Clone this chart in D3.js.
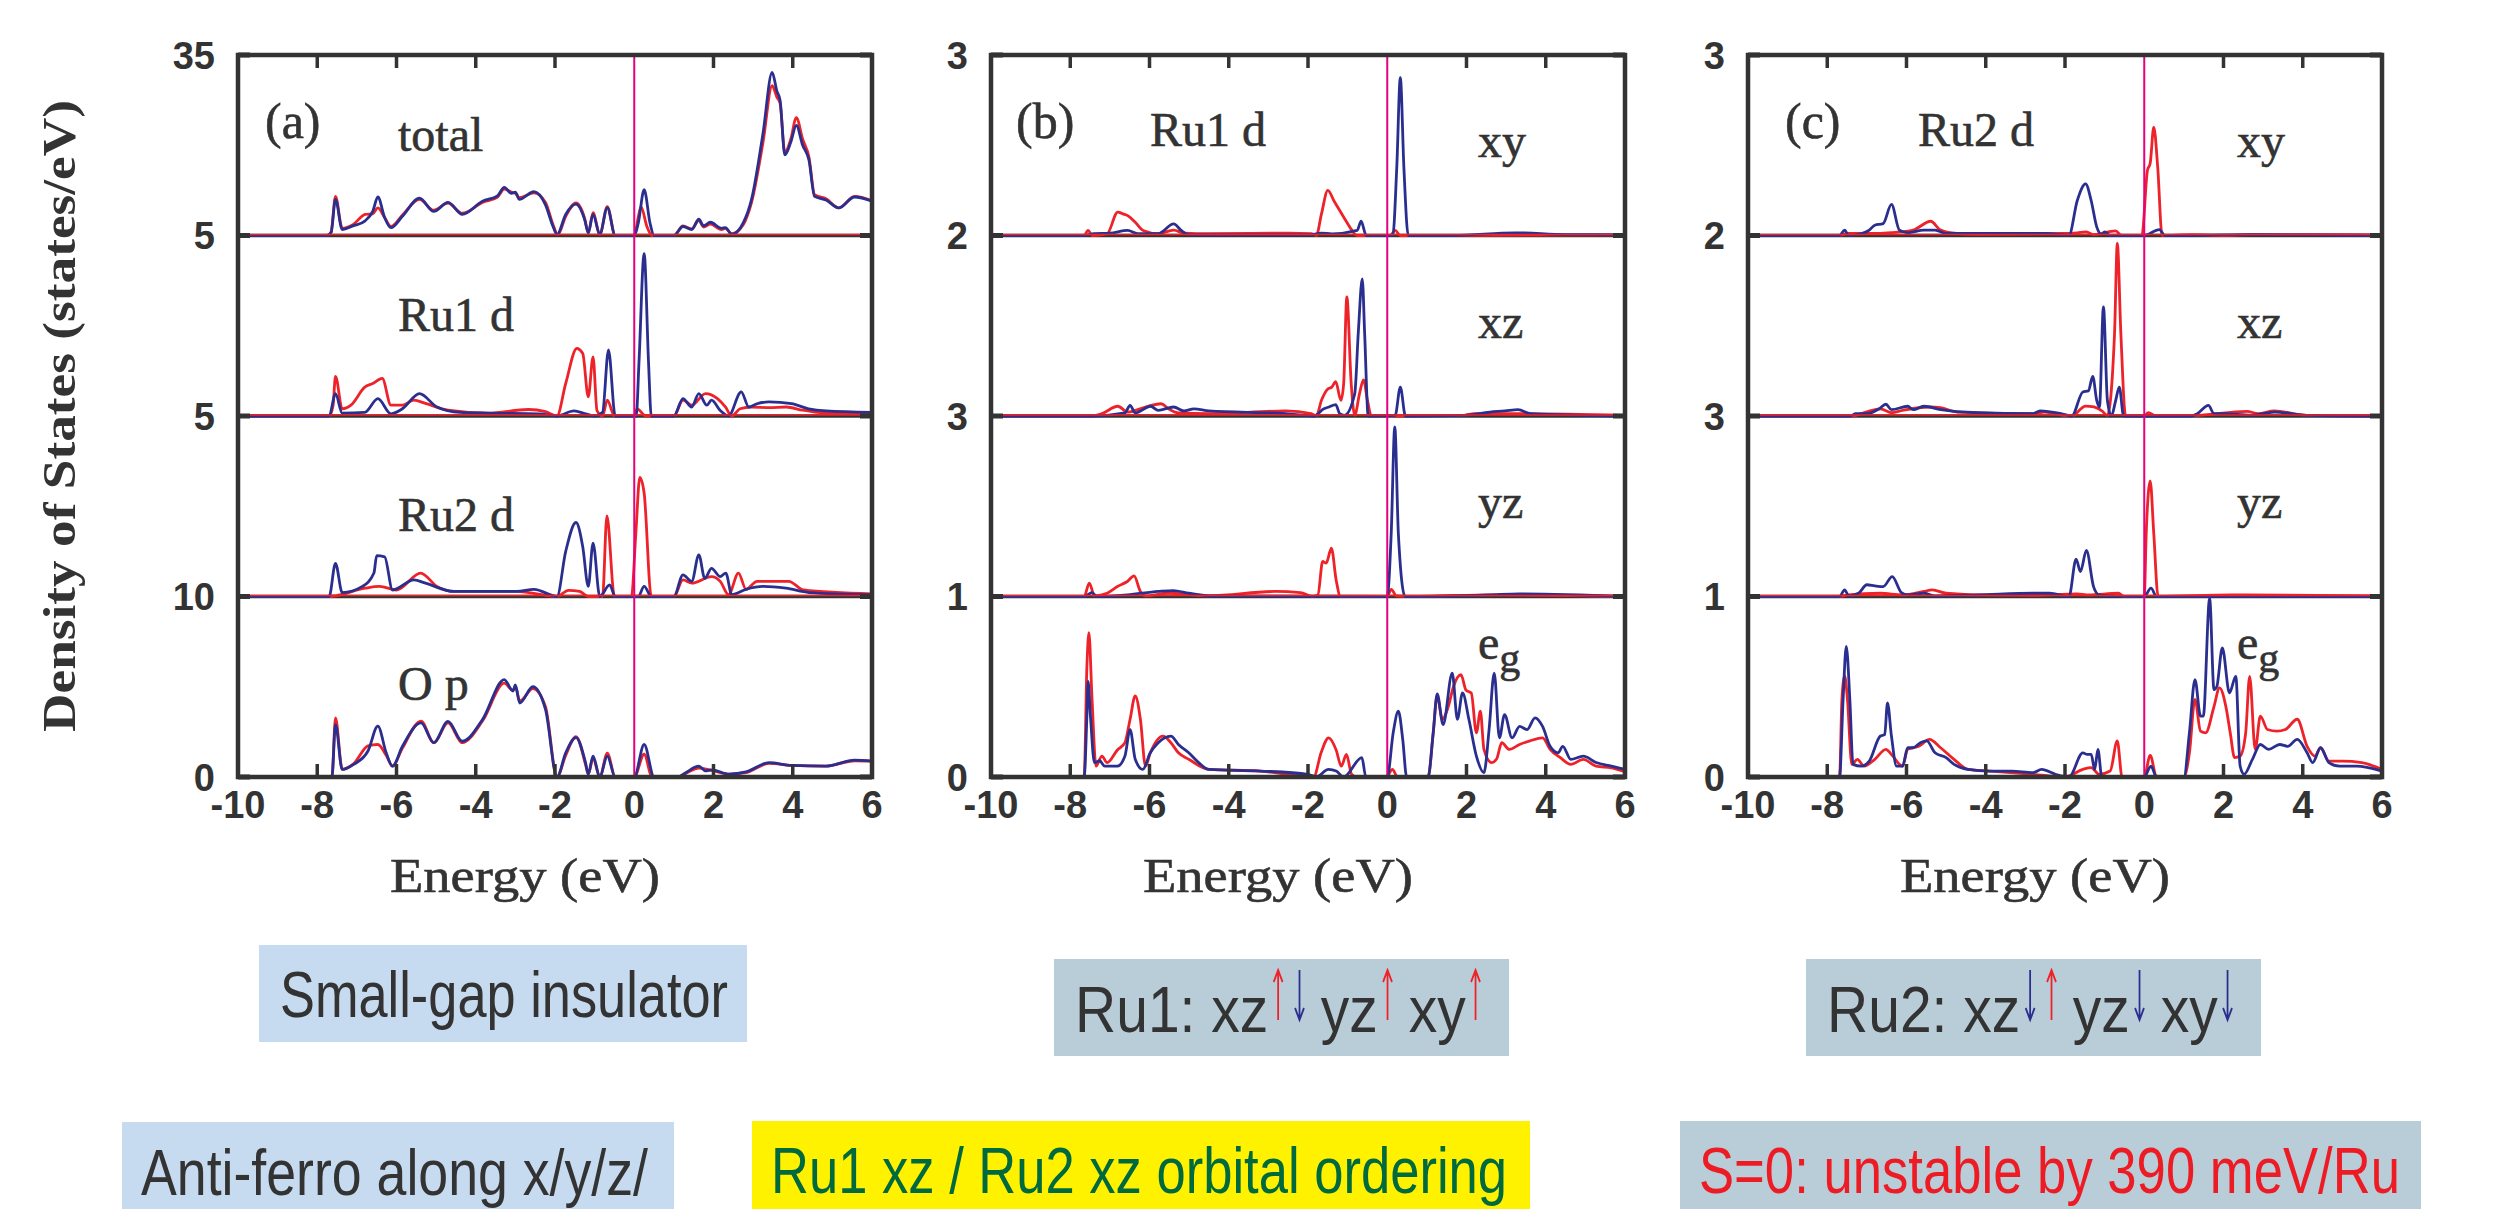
<!DOCTYPE html>
<html>
<head>
<meta charset="utf-8">
<script src="https://cdn.jsdelivr.net/npm/d3@7"></script>
<style>
  body { margin: 0; background: #fff; }
</style>
</head>
<body>
<div id="chart"></div>
<script>
// ---- data (energy in eV, DOS per sub-panel units) ----
var energyTicks = [-10, -8, -6, -4, -2, 0, 2, 4, 6];
var innerTicks = [-8, -6, -4, -2, 2, 4];

var aYLabels = ['35', '5', '5', '10', '0'];
var bYLabels = ['3', '2', '3', '1', '0'];
var cYLabels = ['3', '2', '3', '1', '0'];
var aNames = ['total', 'Ru1 d', 'Ru2 d', 'O p'];
var orbNames = ['xy', 'xz', 'yz', 'e'];
var aMax = [30, 5, 5, 5];
var orbMax = [1, 1, 1, 1];

// panel (a)
var totalBlue = [[-10,0],[-7.75,0],[-7.65,0.5],[-7.54,6.0],[-7.37,1.0],[-7.1,1.6],[-6.8,2.4],[-6.6,4.0],[-6.47,6.4],[-6.3,3.0],[-6.14,1.3],[-5.85,3.2],[-5.42,6.2],[-5.06,4.0],[-4.7,5.5],[-4.34,3.5],[-3.83,5.7],[-3.45,6.6],[-3.28,8.0],[-3.1,7.0],[-3.0,7.2],[-2.9,6.0],[-2.53,7.3],[-2.24,5.1],[-2.05,1.5],[-1.95,0.15],[-1.73,3.5],[-1.47,5.2],[-1.25,2.6],[-1.16,0.45],[-1.04,3.5],[-0.87,0.2],[-0.68,4.6],[-0.48,0],[0,0],[0.1,2.0],[0.25,7.6],[0.4,2.0],[0.5,0],[1.0,0],[1.23,1.5],[1.45,1.0],[1.63,2.7],[1.75,1.6],[1.92,2.2],[2.2,1.2],[2.3,1.3],[2.46,0.2],[2.75,2.1],[2.96,6.0],[3.25,17.0],[3.48,27.1],[3.6,24.0],[3.68,22.5],[3.8,13.4],[3.95,15.5],[4.09,18.3],[4.25,15.0],[4.41,12.5],[4.55,6.5],[4.84,5.9],[5.16,4.6],[5.56,6.4],[6,5.7]];
var totalRed = [[-10,0],[-7.75,0],[-7.65,0.6],[-7.54,6.5],[-7.37,1.2],[-7.1,1.8],[-6.79,3.5],[-6.6,3.6],[-6.47,4.6],[-6.3,3.0],[-6.14,1.5],[-5.85,3.4],[-5.42,6.0],[-5.06,4.2],[-4.7,5.4],[-4.34,3.7],[-3.83,5.5],[-3.45,6.4],[-3.28,7.7],[-3.1,7.2],[-3.0,7.0],[-2.9,6.3],[-2.53,7.1],[-2.24,5.5],[-2.05,1.8],[-1.93,0.1],[-1.73,3.2],[-1.47,5.4],[-1.25,2.8],[-1.16,0.4],[-1.04,3.8],[-0.87,0.2],[-0.68,4.8],[-0.48,0],[0,0],[0.1,3.0],[0.17,4.8],[0.32,1.5],[0.45,0],[1.0,0],[1.23,1.6],[1.45,1.1],[1.63,2.5],[1.75,1.4],[1.92,1.9],[2.2,1.0],[2.3,1.2],[2.46,0.3],[2.75,1.8],[2.96,5.5],[3.25,15.5],[3.48,24.9],[3.6,23.0],[3.68,22.0],[3.8,13.8],[3.95,16.0],[4.09,19.6],[4.25,16.0],[4.41,13.0],[4.55,6.8],[4.84,6.1],[5.16,4.6],[5.56,6.5],[6,5.8]];

var ru1Red = [[-10,0],[-7.7,0],[-7.6,0.3],[-7.54,1.1],[-7.37,0.2],[-7.15,0.3],[-6.8,0.8],[-6.6,0.9],[-6.36,1.04],[-6.14,0.3],[-5.85,0.3],[-5.56,0.44],[-5.27,0.35],[-4.7,0.16],[-3.7,0.08],[-2.67,0.18],[-2.24,0.12],[-1.95,0],[-1.73,0.9],[-1.45,1.87],[-1.3,1.73],[-1.16,0.53],[-1.04,1.64],[-0.94,0.15],[-0.8,0],[-0.68,0.44],[-0.5,0],[0,0],[0.07,0.2],[0.29,0],[1.0,0],[1.23,0.44],[1.45,0.3],[1.8,0.62],[2.1,0.48],[2.3,0.25],[2.46,0],[2.67,0.2],[2.96,0.25],[3.4,0.23],[3.83,0.25],[4.25,0.16],[4.55,0.11],[5.16,0.07],[6,0.07]];
var ru1Blue = [[-10,0],[-7.7,0],[-7.54,0.62],[-7.37,0.08],[-6.8,0.1],[-6.47,0.48],[-6.14,0.06],[-5.85,0.2],[-5.42,0.62],[-4.98,0.25],[-4.4,0.1],[-3.7,0.08],[-2.4,0.06],[-1.95,0],[-1.52,0.14],[-1.23,0.06],[-1.0,0],[-0.8,0.1],[-0.65,1.83],[-0.48,0],[0.05,0],[0.12,1.5],[0.25,4.5],[0.36,1.5],[0.43,0],[1.0,0],[1.23,0.48],[1.45,0.25],[1.63,0.62],[1.83,0.3],[1.95,0.44],[2.17,0.15],[2.38,0],[2.7,0.67],[2.89,0.25],[3.1,0.34],[3.4,0.39],[3.97,0.34],[4.4,0.2],[4.84,0.14],[6,0.1]];

var ru2Red = [[-10,0],[-7.7,0],[-7.54,0.02],[-6.79,0.23],[-6.43,0.28],[-6.0,0.18],[-5.39,0.65],[-4.98,0.28],[-4.55,0.14],[-2.96,0.14],[-1.95,0],[-1.66,0.17],[-1.38,0.14],[-1.16,0],[-0.8,0],[-0.69,2.23],[-0.5,0],[-0.07,0],[0.04,1.75],[0.14,3.3],[0.25,2.86],[0.43,0],[1.0,0],[1.23,0.46],[1.45,0.37],[1.95,0.55],[2.17,0.42],[2.38,0.05],[2.63,0.65],[2.82,0.2],[3.1,0.42],[3.9,0.42],[4.27,0.18],[6,0.07]];
var ru2Blue = [[-10,0],[-7.7,0],[-7.54,0.92],[-7.37,0.11],[-6.86,0.28],[-6.57,0.65],[-6.5,1.13],[-6.3,1.1],[-6.1,0.18],[-5.56,0.46],[-5.27,0.37],[-4.55,0.14],[-2.96,0.14],[-2.53,0.2],[-1.95,0],[-1.73,1.25],[-1.47,2.05],[-1.3,1.38],[-1.16,0.28],[-1.04,1.48],[-0.87,0],[-0.62,0.32],[-0.48,0],[0.1,0],[0.25,0.28],[0.43,0],[1.0,0],[1.23,0.6],[1.45,0.42],[1.63,1.15],[1.78,0.5],[1.95,0.78],[2.17,0.55],[2.31,0.65],[2.46,0.05],[2.82,0.2],[3.25,0.28],[3.83,0.23],[4.41,0.11],[6,0.05]];

var opBlue = [[-10,0],[-7.63,0],[-7.54,1.45],[-7.37,0.21],[-7.08,0.35],[-6.72,0.72],[-6.47,1.41],[-6.26,0.67],[-6.1,0.3],[-5.85,0.85],[-5.38,1.5],[-5.06,0.95],[-4.7,1.54],[-4.34,0.99],[-3.83,1.59],[-3.28,2.7],[-3.06,2.38],[-3.0,2.55],[-2.89,2.05],[-2.56,2.5],[-2.24,1.87],[-1.95,0],[-1.73,0.67],[-1.47,1.09],[-1.23,0.4],[-1.16,0.08],[-1.04,0.58],[-0.87,0],[-0.68,0.58],[-0.48,0],[0,0],[0.25,0.9],[0.5,0],[1.1,0],[1.3,0.12],[1.63,0.3],[1.8,0.17],[1.95,0.2],[2.4,0.08],[2.82,0.14],[3.4,0.4],[3.97,0.32],[4.84,0.3],[5.56,0.47],[6,0.44]];
var opRed = [[-10,0],[-7.63,0],[-7.54,1.64],[-7.37,0.21],[-7.08,0.37],[-6.72,0.86],[-6.47,0.9],[-6.26,0.6],[-6.1,0.3],[-5.85,0.8],[-5.38,1.55],[-5.06,0.95],[-4.7,1.5],[-4.34,0.95],[-3.83,1.55],[-3.28,2.6],[-3.06,2.4],[-3.0,2.5],[-2.89,2.1],[-2.56,2.45],[-2.24,1.95],[-1.95,0],[-1.73,0.6],[-1.47,1.12],[-1.23,0.35],[-1.16,0.08],[-1.04,0.52],[-0.87,0],[-0.68,0.66],[-0.48,0],[0,0],[0.25,0.63],[0.45,0],[1.1,0],[1.3,0.1],[1.63,0.25],[1.95,0.18],[2.4,0.08],[2.82,0.12],[3.4,0.38],[3.97,0.32],[4.84,0.3],[5.56,0.45],[6,0.44]];

// panel (b) Ru1 d orbitals
var xyRedB = [[-10,0],[-7.65,0],[-7.55,0.028],[-7.45,0],[-7.07,0.01],[-6.8,0.13],[-6.67,0.12],[-6.55,0.11],[-6.36,0.073],[-6.16,0.028],[-5.78,0.01],[-5.39,0.03],[-5.13,0.013],[-4.5,0.01],[-2.5,0.013],[-1.92,0.01],[-1.79,0],[-1.66,0.12],[-1.5,0.25],[-1.34,0.19],[-1.15,0.12],[-1.02,0.073],[-0.89,0.028],[-0.76,0],[0.07,0],[0.2,0.028],[0.33,0],[6,0.004]];
var xyBlueB = [[-10,0],[-7.65,0],[-7.4,0.01],[-7.0,0.013],[-6.55,0.028],[-6.3,0.01],[-5.78,0.01],[-5.39,0.064],[-5.2,0.028],[-5.0,0.004],[-1.92,0.004],[-1.66,0.013],[-1.4,0.009],[-0.76,0.028],[-0.66,0.079],[-0.53,0],[0.14,0],[0.24,0.376],[0.33,0.875],[0.42,0.376],[0.53,0],[1.66,0],[3.23,0.015],[4.5,0.005],[6,0.004]];
var xzRedB = [[-10,0],[-7.45,0],[-7.2,0.013],[-6.8,0.054],[-6.55,0.022],[-6.04,0.054],[-5.71,0.068],[-5.52,0.04],[-5.27,0.017],[-4.5,0.013],[-2.56,0.028],[-1.92,0.013],[-1.79,0],[-1.66,0.087],[-1.5,0.15],[-1.4,0.16],[-1.3,0.19],[-1.17,0.087],[-1.1,0.18],[-1.02,0.66],[-0.91,0.18],[-0.82,0.004],[-0.7,0.124],[-0.6,0.2],[-0.5,0.087],[-0.4,0],[1.94,0.004],[2.2,0.013],[3.2,0.013],[6,0.004]];
var xzBlueB = [[-10,0],[-7.45,0],[-6.62,0.017],[-6.49,0.059],[-6.36,0.017],[-5.97,0.054],[-5.78,0.031],[-5.39,0.05],[-5.13,0.028],[-4.88,0.04],[-4.5,0.028],[-2.56,0.013],[-1.85,0],[-1.6,0.04],[-1.47,0.05],[-1.3,0.063],[-1.2,0.013],[-1.08,0.004],[-0.82,0.124],[-0.73,0.465],[-0.63,0.76],[-0.57,0.455],[-0.48,0],[0.2,0.004],[0.33,0.16],[0.46,0],[1.94,0.004],[2.59,0.022],[2.97,0.028],[3.3,0.035],[3.62,0.013],[6,0]];
var yzRedB = [[-10,0],[-7.65,0],[-7.52,0.074],[-7.39,0.004],[-7.07,0.018],[-6.81,0.055],[-6.56,0.083],[-6.39,0.114],[-6.23,0.028],[-6.1,0.004],[-5.53,0.018],[-4.5,0.004],[-2.83,0.028],[-2.19,0.022],[-1.88,0],[-1.75,0.009],[-1.63,0.194],[-1.54,0.185],[-1.41,0.268],[-1.29,0.092],[-1.18,0],[0,0],[0.1,0.04],[0.23,0.004],[0.64,0],[2.7,0.009],[6,0]];
var yzBlueB = [[-10,0],[-7.65,0],[-7.45,0.022],[-7.33,0],[-6.56,0.009],[-5.78,0.028],[-5.4,0.033],[-5.01,0.018],[-4.5,0.004],[0,0],[0.1,0.35],[0.19,0.94],[0.28,0.35],[0.45,0],[2.57,0.009],[3.34,0.015],[6,0]];
var egRedB = [[-10,0],[-7.65,0],[-7.58,0.61],[-7.53,0.8],[-7.45,0.43],[-7.35,0.06],[-7.2,0.116],[-7.07,0.08],[-6.81,0.15],[-6.62,0.19],[-6.49,0.32],[-6.36,0.45],[-6.23,0.32],[-6.1,0.06],[-5.98,0.134],[-5.66,0.227],[-5.46,0.19],[-5.27,0.134],[-5.01,0.098],[-4.5,0.042],[-3.2,0.033],[-2.5,0.015],[-1.85,0.005],[-1.67,0.134],[-1.48,0.217],[-1.29,0.15],[-1.16,0.06],[-1.03,0.125],[-0.9,0.015],[-0.77,0],[-0.02,0],[0.13,0.042],[0.26,0],[1.03,0],[1.16,0.245],[1.26,0.45],[1.39,0.32],[1.54,0.39],[1.67,0.5],[1.86,0.567],[1.99,0.48],[2.12,0.466],[2.25,0.245],[2.35,0.365],[2.44,0.153],[2.63,0.08],[2.76,0.1],[2.89,0.19],[3.08,0.153],[3.34,0.18],[3.6,0.2],[3.92,0.217],[4.11,0.153],[4.37,0.107],[4.63,0.07],[4.95,0.098],[5.27,0.06],[5.66,0.05],[6,0.028]];
var egBlueB = [[-10,0],[-7.65,0],[-7.58,0.337],[-7.55,0.53],[-7.49,0.337],[-7.39,0.08],[-7.26,0.09],[-7.13,0.06],[-6.81,0.06],[-6.62,0.116],[-6.49,0.263],[-6.36,0.098],[-6.17,0.042],[-5.98,0.134],[-5.78,0.19],[-5.46,0.227],[-5.27,0.18],[-5.01,0.134],[-4.76,0.08],[-4.5,0.042],[-3.2,0.033],[-2.0,0.015],[-1.8,0],[-1.48,0.042],[-1.29,0.033],[-1.1,0],[-0.64,0.107],[-0.54,0],[0,0],[0.15,0.245],[0.28,0.365],[0.39,0.21],[0.49,0],[1.03,0],[1.16,0.245],[1.26,0.46],[1.41,0.29],[1.64,0.576],[1.77,0.32],[1.9,0.466],[2.06,0.32],[2.25,0.116],[2.44,0.024],[2.57,0.263],[2.7,0.576],[2.83,0.217],[2.96,0.346],[3.15,0.217],[3.34,0.28],[3.53,0.263],[3.73,0.328],[3.92,0.28],[4.11,0.17],[4.31,0.134],[4.43,0.17],[4.63,0.098],[4.95,0.116],[5.27,0.08],[5.66,0.06],[6,0.042]];

// panel (c) Ru2 d orbitals
var xyRedC = [[-10,0],[-7.69,0],[-7.5,0.011],[-6.94,0.011],[-6.38,0.016],[-5.83,0.03],[-5.39,0.079],[-5.14,0.03],[-4.73,0.011],[-4.2,0.007],[-2.1,0.011],[-1.69,0.015],[-1.48,0.02],[-1.27,0.005],[-0.72,0.026],[-0.58,0],[-0.06,0],[0.08,0.36],[0.15,0.4],[0.24,0.6],[0.34,0.377],[0.45,0],[1.2,0.005],[2.0,0],[2.7,0.005],[6,0.004]];
var xyBlueC = [[-10,0],[-7.69,0],[-7.56,0.03],[-7.46,0],[-7.2,0.007],[-6.94,0.03],[-6.8,0.057],[-6.59,0.066],[-6.38,0.172],[-6.18,0.03],[-5.97,0.015],[-5.56,0.03],[-5.28,0.03],[-5.0,0.011],[-2.5,0.011],[-1.9,0.002],[-1.69,0.194],[-1.48,0.286],[-1.34,0.194],[-1.2,0.048],[-1.07,0.005],[-1.0,0.02],[-0.86,0],[0,0],[0.38,0.033],[0.52,0],[2.7,0.005],[6,0]];
var xzRedC = [[-10,0],[-7.42,0],[-6.66,0.04],[-6.38,0.018],[-6.1,0.031],[-5.42,0.05],[-5.14,0.046],[-4.73,0.022],[-2.8,0.013],[-2.52,0.022],[-1.83,0],[-1.48,0.055],[-1.27,0.05],[-1.07,0.028],[-0.93,0.004],[-0.75,0.456],[-0.68,0.956],[-0.59,0.456],[-0.47,0],[0,0],[0.1,0.018],[0.31,0],[1.34,0.004],[2.59,0.026],[2.87,0.013],[3.28,0.028],[4.1,0.004],[6,0]];
var xzBlueC = [[-10,0],[-7.42,0],[-7.28,0.013],[-7.0,0.013],[-6.69,0.04],[-6.52,0.065],[-6.38,0.035],[-5.97,0.054],[-5.83,0.035],[-5.56,0.054],[-5.14,0.035],[-4.2,0.018],[-2.8,0.013],[-2.63,0.028],[-2.1,0.013],[-1.83,0],[-1.55,0.133],[-1.41,0.139],[-1.3,0.22],[-1.2,0.087],[-1.13,0.05],[-1.03,0.605],[-0.93,0.087],[-0.83,0],[-0.72,0.087],[-0.63,0.16],[-0.52,0],[1.2,0],[1.34,0.013],[1.62,0.059],[1.76,0.013],[2.0,0.013],[2.7,0.004],[3.28,0.022],[4.1,0.004],[6,0]];
var yzRedC = [[-10,0],[-7.69,0],[-7.48,0.009],[-6.66,0.018],[-6.1,0.009],[-5.56,0.028],[-5.35,0.037],[-5.0,0.018],[-4.2,0.009],[-2.8,0.007],[-1.69,0.015],[-1.41,0.009],[-0.65,0.018],[-0.52,0],[0,0],[0.05,0.35],[0.15,0.64],[0.24,0.35],[0.35,0],[2.2,0.009],[6,0.004]];
var yzBlueC = [[-10,0],[-7.69,0],[-7.56,0.037],[-7.46,0.004],[-7.21,0.018],[-7.0,0.065],[-6.8,0.059],[-6.59,0.055],[-6.36,0.11],[-6.13,0.022],[-5.97,0.009],[-5.56,0.018],[-5.28,0.004],[-4.2,0.009],[-2.8,0.018],[-2.39,0.018],[-1.9,0],[-1.72,0.207],[-1.61,0.138],[-1.46,0.255],[-1.28,0.055],[-1.14,0.009],[-0.93,0.004],[0,0],[0.17,0.046],[0.31,0],[6,0]];
var egRedC = [[-10,0],[-7.69,0],[-7.63,0.43],[-7.56,0.56],[-7.49,0.43],[-7.38,0.07],[-7.24,0.098],[-7.07,0.06],[-6.8,0.098],[-6.52,0.153],[-6.38,0.125],[-6.1,0.06],[-5.97,0.153],[-5.69,0.17],[-5.42,0.208],[-5.14,0.162],[-4.8,0.098],[-4.45,0.042],[-3.9,0.033],[-2.8,0.015],[-2.0,0],[-1.55,0.042],[-1.34,0.052],[-1.14,0.015],[-0.86,0.033],[-0.68,0.2],[-0.56,0],[0,0],[0.15,0.12],[0.31,0],[1.0,0],[1.14,0.134],[1.28,0.43],[1.42,0.254],[1.55,0.245],[1.76,0.39],[1.9,0.494],[2.06,0.39],[2.17,0.245],[2.28,0.107],[2.42,0.116],[2.56,0.245],[2.66,0.558],[2.8,0.153],[2.93,0.337],[3.11,0.263],[3.35,0.254],[3.56,0.263],[3.86,0.32],[4.11,0.17],[4.31,0.116],[4.45,0.162],[4.66,0.088],[5.0,0.088],[5.49,0.08],[6,0.042]];
var egBlueC = [[-10,0],[-7.69,0],[-7.6,0.43],[-7.52,0.724],[-7.43,0.43],[-7.35,0.07],[-7.14,0.06],[-6.94,0.088],[-6.66,0.227],[-6.55,0.235],[-6.48,0.41],[-6.38,0.227],[-6.25,0.06],[-6.1,0.06],[-5.97,0.162],[-5.83,0.162],[-5.65,0.19],[-5.49,0.2],[-5.28,0.134],[-5.0,0.107],[-4.8,0.07],[-4.45,0.042],[-3.9,0.033],[-3.35,0.033],[-2.8,0.024],[-2.59,0.042],[-2.24,0.015],[-1.9,0],[-1.55,0.134],[-1.44,0.125],[-1.34,0.125],[-1.25,0.042],[-1.17,0.153],[-1.07,0],[0,0],[0.17,0.06],[0.31,0],[1.0,0],[1.14,0.245],[1.28,0.54],[1.42,0.337],[1.49,0.337],[1.65,0.99],[1.76,0.484],[1.83,0.5],[1.97,0.715],[2.15,0.466],[2.31,0.558],[2.42,0.06],[2.52,0.015],[2.73,0.098],[2.93,0.18],[3.14,0.153],[3.42,0.18],[3.62,0.17],[3.86,0.208],[4.11,0.134],[4.25,0.08],[4.45,0.162],[4.66,0.08],[4.93,0.06],[5.35,0.06],[6,0.033]];

// ---- layout ----
var W = 2509, H = 1209;
var plotTop = 55, subH = 180.5, panelW = 634;
var RED = '#ee2229', BLUE = '#2a2f8f', INK = '#333333', FERMI = '#e4007f';

var panels = [
  { left: 238, tag: '(a)', tagDx: 27, title: null, yLabels: aYLabels, names: aNames, max: aMax,
    nameDx: 160, nameY: [151, 331, 531, 700],
    red: [totalRed, ru1Red, ru2Red, opRed], blue: [totalBlue, ru1Blue, ru2Blue, opBlue] },
  { left: 991, tag: '(b)', tagDx: 25, title: 'Ru1 d', titleDx: 159, yLabels: bYLabels, names: orbNames, max: orbMax,
    nameDx: 487, nameY: [157, 338, 518, 659],
    red: [xyRedB, xzRedB, yzRedB, egRedB], blue: [xyBlueB, xzBlueB, yzBlueB, egBlueB] },
  { left: 1748, tag: '(c)', tagDx: 37, title: 'Ru2 d', titleDx: 170, yLabels: cYLabels, names: orbNames, max: orbMax,
    nameDx: 489, nameY: [157, 338, 518, 659],
    red: [xyRedC, xzRedC, yzRedC, egRedC], blue: [xyBlueC, xzBlueC, yzBlueC, egBlueC] }
];

var svg = d3.select('#chart').append('svg')
  .attr('width', W).attr('height', H)
  .style('display', 'block')
  .style('background', '#fff');

var serif = "'Liberation Serif', 'Times New Roman', serif";
var narrow = "'Liberation Sans Narrow', 'Arial Narrow', 'Liberation Sans', Arial, sans-serif";

panels.forEach(function(p) {
  var bottom = plotTop + 4 * subH;
  var x = d3.scaleLinear().domain([-10, 6]).range([p.left, p.left + panelW]);
  var g = svg.append('g');

  // sub-panel dividers
  for (var k = 1; k < 4; k++) {
    var yy = plotTop + k * subH;
    g.append('line').attr('x1', p.left).attr('x2', p.left + panelW)
      .attr('y1', yy).attr('y2', yy)
      .attr('stroke', INK).attr('stroke-width', 3.5);
  }

  // curves
  for (var s = 0; s < 4; s++) {
    var base = plotTop + (s + 1) * subH;
    var y = d3.scaleLinear().domain([0, p.max[s]]).range([base, base - subH]);
    var line = d3.line()
      .x(function(d) { return x(d[0]); })
      .y(function(d) { return y(d[1]); })
      .curve(d3.curveMonotoneX);
    g.append('path').datum(p.red[s])
      .attr('d', line).attr('fill', 'none')
      .attr('stroke', RED).attr('stroke-width', 2.8).attr('stroke-linejoin', 'round');
    g.append('path').datum(p.blue[s])
      .attr('d', line).attr('fill', 'none')
      .attr('stroke', BLUE).attr('stroke-width', 2.8).attr('stroke-linejoin', 'round');
    // red zero level drawn over the curves
    g.append('line').attr('x1', p.left).attr('x2', p.left + panelW)
      .attr('y1', base - 1).attr('y2', base - 1)
      .attr('stroke', RED).attr('stroke-width', 1.6);
  }

  // ticks on top and bottom, pointing inward
  g.selectAll('.tt').data(innerTicks).enter().append('line')
    .attr('x1', d => x(d)).attr('x2', d => x(d))
    .attr('y1', plotTop).attr('y2', plotTop + 13)
    .attr('stroke', INK).attr('stroke-width', 3.5);
  g.selectAll('.bt').data(innerTicks).enter().append('line')
    .attr('x1', d => x(d)).attr('x2', d => x(d))
    .attr('y1', bottom).attr('y2', bottom - 13)
    .attr('stroke', INK).attr('stroke-width', 3.5);

  // left/right ticks at each level
  var levels = d3.range(5).map(function(i) { return plotTop + i * subH; });
  levels.forEach(function(ly) {
    g.append('line').attr('x1', p.left).attr('x2', p.left + 12).attr('y1', ly).attr('y2', ly)
      .attr('stroke', INK).attr('stroke-width', 5);
    g.append('line').attr('x1', p.left + panelW - 12).attr('x2', p.left + panelW).attr('y1', ly).attr('y2', ly)
      .attr('stroke', INK).attr('stroke-width', 5);
  });

  // Fermi level
  g.append('line').attr('x1', x(0)).attr('x2', x(0))
    .attr('y1', plotTop).attr('y2', bottom)
    .attr('stroke', FERMI).attr('stroke-width', 2);

  // frame
  g.append('rect').attr('x', p.left).attr('y', plotTop)
    .attr('width', panelW).attr('height', bottom - plotTop)
    .attr('fill', 'none').attr('stroke', INK).attr('stroke-width', 4.5);

  // y tick labels
  g.selectAll('.yl').data(p.yLabels).enter().append('text')
    .attr('x', p.left - 23)
    .attr('y', function(d, i) { return levels[i]; })
    .attr('dy', '0.36em')
    .attr('text-anchor', 'end')
    .attr('font-family', narrow).attr('font-weight', 'bold').attr('font-size', 38)
    .attr('fill', INK)
    .text(function(d) { return d; });

  // x tick labels
  g.selectAll('.xl').data(energyTicks).enter().append('text')
    .attr('x', d => x(d)).attr('y', bottom + 41)
    .attr('text-anchor', 'middle')
    .attr('font-family', narrow).attr('font-weight', 'bold').attr('font-size', 38)
    .attr('fill', INK)
    .text(d => d);

  // x axis title
  g.append('text')
    .attr('x', p.left + panelW / 2 - 30).attr('y', 892)
    .attr('text-anchor', 'middle')
    .attr('font-family', serif).attr('font-size', 48)
    .attr('textLength', 270).attr('lengthAdjust', 'spacingAndGlyphs')
    .attr('fill', INK).attr('stroke', INK).attr('stroke-width', 0.6)
    .text('Energy (eV)');

  // panel tag and labels
  g.append('text').attr('x', p.left + p.tagDx).attr('y', 138)
    .attr('font-family', serif).attr('font-size', 50)
    .attr('fill', INK).attr('stroke', INK).attr('stroke-width', 0.6)
    .text(p.tag);
  if (p.title) {
    g.append('text').attr('x', p.left + p.titleDx).attr('y', 146)
      .attr('font-family', serif).attr('font-size', 48)
      .attr('fill', INK).attr('stroke', INK).attr('stroke-width', 0.6)
      .text(p.title);
  }
  p.names.forEach(function(n, i) {
    var t = g.append('text').attr('x', p.left + p.nameDx).attr('y', p.nameY[i])
      .attr('font-family', serif).attr('font-size', 48)
      .attr('fill', INK).attr('stroke', INK).attr('stroke-width', 0.6);
    t.append('tspan').text(n);
    if (n === 'e') {
      t.append('tspan').attr('dy', 13).attr('font-size', 42).text('g');
    }
  });
});

// y axis title
svg.append('text')
  .attr('transform', 'translate(59,416) rotate(-90)')
  .attr('dy', '0.35em')
  .attr('text-anchor', 'middle')
  .attr('font-family', serif).attr('font-weight', 'bold').attr('font-size', 46)
  .attr('textLength', 632).attr('lengthAdjust', 'spacingAndGlyphs')
  .attr('fill', INK)
  .text('Density of States (states/eV)');

// ---- annotation boxes ----
var boxes = [
  { x: 259, y: 945, w: 488, h: 97, fill: '#c6dbef', color: INK, tx: 280, base: 1017, len: 448,
    parts: ['Small-gap insulator'] },
  { x: 1054, y: 959, w: 455, h: 97, fill: '#b8cdd8', color: INK, tx: 1075, base: 1032, len: 405,
    parts: ['Ru1: xz', 'up', 'down', ' yz', 'up', ' xy', 'up'] },
  { x: 1806, y: 959, w: 455, h: 97, fill: '#b8cdd8', color: INK, tx: 1827, base: 1032, len: 405,
    parts: ['Ru2: xz', 'down', 'up', ' yz', 'down', ' xy', 'down'] },
  { x: 122, y: 1122, w: 552, h: 100, fill: '#c6dbef', color: INK, tx: 141, base: 1195, len: 507,
    parts: ['Anti-ferro along x/y/z/'] },
  { x: 752, y: 1121, w: 778, h: 100, fill: '#fff200', color: '#00693e', tx: 771, base: 1193, len: 736,
    parts: ['Ru1 xz / Ru2 xz orbital ordering'] },
  { x: 1680, y: 1121, w: 741, h: 100, fill: '#b8cdd8', color: '#ed1c24', tx: 1699, base: 1193, len: 701,
    parts: ['S=0: unstable by 390 meV/Ru'] }
];

boxes.forEach(function(b) {
  svg.append('rect').attr('x', b.x).attr('y', b.y)
    .attr('width', b.w).attr('height', b.h).attr('fill', b.fill);
  var g = svg.append('g');
  if (b.parts.length === 1) {
    g.append('text').attr('x', b.tx).attr('y', b.base)
      .attr('font-family', narrow).attr('font-size', 64).attr('fill', b.color)
      .attr('textLength', b.len).attr('lengthAdjust', 'spacingAndGlyphs')
      .text(b.parts[0]);
    return;
  }
  var cx = b.tx;
  var prevArrow = false;
  b.parts.forEach(function(part) {
    if (part === 'up' || part === 'down') {
      cx += prevArrow ? 24 : 11;
      var y1 = b.base - 62, y2 = b.base - 12;
      var col = part === 'up' ? RED : BLUE;
      var tip = part === 'up' ? y1 : y2;
      var sgn = part === 'up' ? 1 : -1;
      g.append('path')
        .attr('d', 'M' + cx + ',' + y2 + 'L' + cx + ',' + y1 +
          'M' + (cx - 5) + ',' + (tip + sgn * 12) + 'L' + cx + ',' + tip + 'L' + (cx + 5) + ',' + (tip + sgn * 12))
        .attr('fill', 'none').attr('stroke', col).attr('stroke-width', 2);
      prevArrow = true;
    } else {
      if (prevArrow) cx += 6;
      var t = g.append('text').attr('x', cx).attr('y', b.base)
        .attr('font-family', narrow).attr('font-size', 64).attr('fill', b.color)
        .attr('xml:space', 'preserve')
        .style('white-space', 'pre')
        .text(part);
      cx += t.node().getComputedTextLength();
      prevArrow = false;
    }
  });
  // squeeze the whole line to the measured width
  var bb = g.node().getBBox();
  var sx = b.len / (bb.x + bb.width - b.tx);
  g.attr('transform', 'translate(' + b.tx + ',0) scale(' + sx + ',1) translate(' + (-b.tx) + ',0)');
});
</script>
</body>
</html>
